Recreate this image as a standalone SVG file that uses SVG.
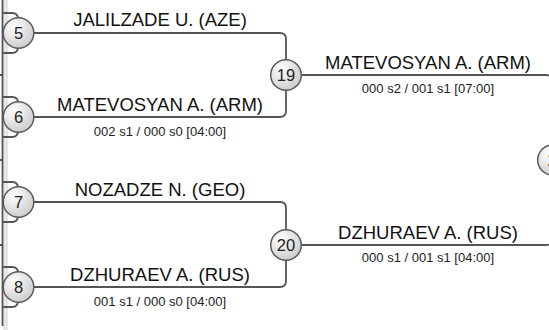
<svg xmlns="http://www.w3.org/2000/svg" width="549" height="330" viewBox="0 0 549 330">
<defs>
<radialGradient id="g" cx="0.35" cy="0.3" r="0.8">
<stop offset="0" stop-color="#ffffff"/>
<stop offset="1" stop-color="#c8c8c8"/>
</radialGradient>
</defs>
<style>
.ln{fill:none;stroke:#555;stroke-width:1.8}
.nd circle{fill:url(#g);stroke:#5a5a5a;stroke-width:1.5}
.nd text{font-family:"Liberation Sans",Arial,sans-serif;font-size:16.5px;fill:#222;text-anchor:middle}
.nm{font-family:"Liberation Sans",Arial,sans-serif;font-size:18.5px;fill:#111;text-anchor:middle}
.sc{font-family:"Liberation Sans",Arial,sans-serif;font-size:13px;fill:#222;text-anchor:middle}
</style>
<rect x="3" y="0" width="5" height="330" fill="#e6e6e6"/>
<g id="connectors">
<path class="ln" d="M2.5,0 V326"/>
<path class="ln" d="M0,75 H3 M0,160 H3 M0,245 H3"/>
<path class="ln" d="M2.5,13 H12 Q18,13 18,19 M2.5,53 H12 Q18,53 18,47"/>
<path class="ln" d="M2.5,97 H12 Q18,97 18,103 M2.5,137 H12 Q18,137 18,131"/>
<path class="ln" d="M2.5,182 H12 Q18,182 18,188 M2.5,222 H12 Q18,222 18,216"/>
<path class="ln" d="M2.5,267 H12 Q18,267 18,273 M2.5,307 H12 Q18,307 18,301"/>
<path class="ln" d="M18,33 H280 Q286,33 286,39 V111 Q286,117 280,117 H18"/>
<path class="ln" d="M18,202 H280 Q286,202 286,208 V281 Q286,287 280,287 H18"/>
<path class="ln" d="M286,75 H546 Q552,75 552,81 V239 Q552,245 546,245 H286"/>
</g>
<g id="n5" class="nd"><circle cx="18.5" cy="33" r="15.3"/><text x="18.5" y="39">5</text></g>
<g id="n6" class="nd"><circle cx="18.5" cy="117" r="15.3"/><text x="18.5" y="123">6</text></g>
<g id="n7" class="nd"><circle cx="18.5" cy="202" r="15.3"/><text x="18.5" y="208">7</text></g>
<g id="n8" class="nd"><circle cx="18.5" cy="287" r="15.3"/><text x="18.5" y="293">8</text></g>
<g id="n19" class="nd"><circle cx="286" cy="75" r="15.3"/><text x="286" y="81">19</text></g>
<g id="n20" class="nd"><circle cx="286" cy="245" r="15.3"/><text x="286" y="251">20</text></g>
<g id="n21" class="nd"><circle cx="553" cy="160" r="15.3"/><text x="547.5" y="166" style="text-anchor:start">2</text></g>
<g id="labels">
<text class="nm" x="160" y="25.5">JALILZADE U. (AZE)</text>
<text class="nm" x="160" y="110.5">MATEVOSYAN A. (ARM)</text>
<text class="sc" x="160" y="136">002 s1 / 000 s0 [04:00]</text>
<text class="nm" x="160" y="195.5">NOZADZE N. (GEO)</text>
<text class="nm" x="160" y="280.5">DZHURAEV A. (RUS)</text>
<text class="sc" x="160" y="306">001 s1 / 000 s0 [04:00]</text>
<text class="nm" x="428" y="68.5">MATEVOSYAN A. (ARM)</text>
<text class="sc" x="428" y="93">000 s2 / 001 s1 [07:00]</text>
<text class="nm" x="428" y="238.5">DZHURAEV A. (RUS)</text>
<text class="sc" x="428" y="262">000 s1 / 001 s1 [04:00]</text>
</g>
</svg>
